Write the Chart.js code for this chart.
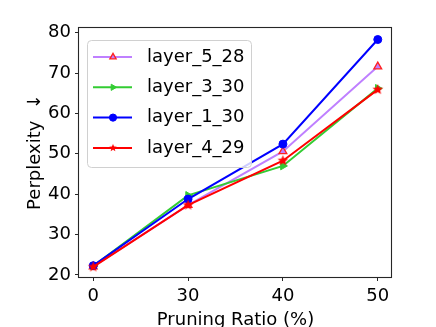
<!DOCTYPE html>
<html><head><meta charset="utf-8">
<script src="https://cdn.jsdelivr.net/npm/chart.js@4/dist/chart.umd.min.js"></script>
<style>html,body{margin:0;padding:0;background:#fff;} #wrap{width:436px;height:327px;position:relative;overflow:hidden;}</style>
</head><body><div id="wrap"><canvas id="c" width="436" height="327"></canvas></div>
<script>
const categories = ['0', '30', '40', '50'];
const yTicks = [20, 30, 40, 50, 60, 70, 80];
const seriesNames = ['layer_5_28', 'layer_3_30', 'layer_1_30', 'layer_4_29'];
const layer_5_28 = [22.1, 37.3, 50.6, 71.6];
const layer_3_30 = [22.2, 39.7, 47.0, 66.2];
const layer_1_30 = [22.3, 38.8, 52.4, 78.3];
const layer_4_29 = [22.0, 37.3, 48.3, 65.9];
const seriesValues = [layer_5_28, layer_3_30, layer_1_30, layer_4_29];

const FONT = 'DejaVu Sans';

function starImage(r, color) {
  const s = Math.ceil(r * 2 + 2);
  const cv = document.createElement('canvas');
  cv.width = s; cv.height = s;
  const g = cv.getContext('2d');
  g.translate(s / 2, s / 2);
  g.beginPath();
  for (let i = 0; i < 10; i++) {
    const rr = i % 2 === 0 ? r : r * 0.45;
    const a = -Math.PI / 2 + i * Math.PI / 5;
    const x = rr * Math.cos(a), y = rr * Math.sin(a);
    if (i === 0) g.moveTo(x, y); else g.lineTo(x, y);
  }
  g.closePath();
  g.fillStyle = color; g.fill();
  return cv;
}
const redStar = starImage(5.5, '#ff0000');
const redStarSmall = starImage(4, '#ff0000');

const styles = [
  {line: '#bf80ff', fill: '#bf80ff', edge: '#ff2020', pointStyle: 'triangle', legendStyle: 'triangle', rot: 0, r: 4.5, bw: 1.3},
  {line: '#33cc33', fill: '#33cc33', edge: '#33cc33', pointStyle: 'triangle', legendStyle: 'triangle', rot: 90, r: 4.5, bw: 1},
  {line: '#0000ff', fill: '#0000ff', edge: '#0000ff', pointStyle: 'circle', legendStyle: 'circle', rot: 0, r: 4, bw: 1},
  {line: '#ff0000', fill: '#ff0000', edge: '#ff0000', pointStyle: redStar, legendStyle: redStarSmall, rot: 0, r: 5.5, bw: 1}
];

const datasets = seriesNames.map((name, i) => ({
  label: name,
  data: seriesValues[i].map((v, j) => ({x: j, y: v})),
  borderColor: styles[i].line,
  backgroundColor: styles[i].fill,
  pointBackgroundColor: styles[i].fill,
  pointBorderColor: styles[i].edge,
  pointBorderWidth: styles[i].bw,
  pointStyle: styles[i].pointStyle,
  pointRotation: styles[i].rot,
  pointRadius: styles[i].r,
  borderWidth: 2,
  tension: 0,
  order: seriesNames.length - i
}));

const framePlugin = {
  id: 'frame',
  afterDatasetsDraw(chart) {
    const {ctx, chartArea: a} = chart;
    ctx.save();
    ctx.strokeStyle = '#262626';
    ctx.lineWidth = 1.1;
    ctx.strokeRect(Math.round(a.left) - 0.5, Math.round(a.top) + 0.5, Math.round(a.right - a.left), Math.round(a.bottom - a.top));
    ctx.restore();
  }
};

const legendPlugin = {
  id: 'inlegend',
  afterDraw(chart) {
    const {ctx, chartArea: a} = chart;
    const x0 = a.left + 8, y0 = a.top + 13, w = 164, h = 127;
    ctx.save();
    ctx.beginPath();
    ctx.roundRect(x0 + 0.5, y0 + 0.5, w, h, 4);
    ctx.fillStyle = 'rgba(255,255,255,0.8)';
    ctx.fill();
    ctx.strokeStyle = '#d0d0d0';
    ctx.lineWidth = 1;
    ctx.stroke();
    chart.data.datasets.forEach((ds, i) => {
      const st = styles[i];
      const cy = y0 + 17 + i * 30.3;
      ctx.strokeStyle = ds.borderColor;
      ctx.lineWidth = 2;
      ctx.beginPath();
      ctx.moveTo(x0 + 6, cy);
      ctx.lineTo(x0 + 45, cy);
      ctx.stroke();
      ctx.fillStyle = ds.pointBackgroundColor;
      ctx.strokeStyle = ds.pointBorderColor;
      ctx.lineWidth = ds.pointBorderWidth;
      if (st.legendStyle instanceof HTMLCanvasElement) {
        ctx.drawImage(st.legendStyle, x0 + 26 - st.legendStyle.width / 2, cy - st.legendStyle.height / 2);
      } else {
        Chart.helpers.drawPoint(ctx, {pointStyle: st.legendStyle, rotation: ds.pointRotation, radius: 3.6, borderWidth: ds.pointBorderWidth}, x0 + 26, cy);
      }
      ctx.fillStyle = '#000';
      ctx.font = '18px "' + FONT + '"';
      ctx.textBaseline = 'middle';
      ctx.textAlign = 'left';
      ctx.fillText(ds.label, x0 + 60, cy);
    });
    ctx.restore();
  }
};

new Chart(document.getElementById('c'), {
  type: 'line',
  data: {datasets},
  plugins: [framePlugin, legendPlugin],
  options: {
    responsive: false,
    animation: false,
    devicePixelRatio: 1,
    layout: {padding: {left: 0, top: 27, right: 44, bottom: 0}},
    plugins: {legend: {display: false}, tooltip: {enabled: false}},
    scales: {
      x: {
        type: 'linear',
        min: -0.15, max: categories.length - 1 + 0.15,
        afterBuildTicks: s => { s.ticks = categories.map((c, i) => ({value: i})); },
        afterFit: s => { s.height = 50; },
        ticks: {callback: (v) => categories[v], color: '#000', font: {family: FONT, size: 18}, padding: 5, maxRotation: 0, autoSkip: false},
        grid: {drawOnChartArea: false, tickLength: 4, color: '#262626'},
        border: {display: false},
        title: {display: true, text: 'Pruning Ratio (%)', color: '#000', font: {family: FONT, size: 18, lineHeight: 1}, padding: {top: 0, bottom: -2}}
      },
      y: {
        type: 'linear',
        min: 19.5, max: 81.4,
        afterBuildTicks: s => { s.ticks = yTicks.map(v => ({value: v})); },
        afterFit: s => { s.width = 79; },
        ticks: {color: '#000', font: {family: FONT, size: 18}, padding: 4},
        grid: {drawOnChartArea: false, tickLength: 4, color: '#262626'},
        border: {display: false},
        title: {display: true, text: 'Perplexity  ↓', color: '#000', font: {family: FONT, size: 18, lineHeight: 1}, padding: {top: 26, bottom: 0}}
      }
    }
  }
});
</script></body></html>
